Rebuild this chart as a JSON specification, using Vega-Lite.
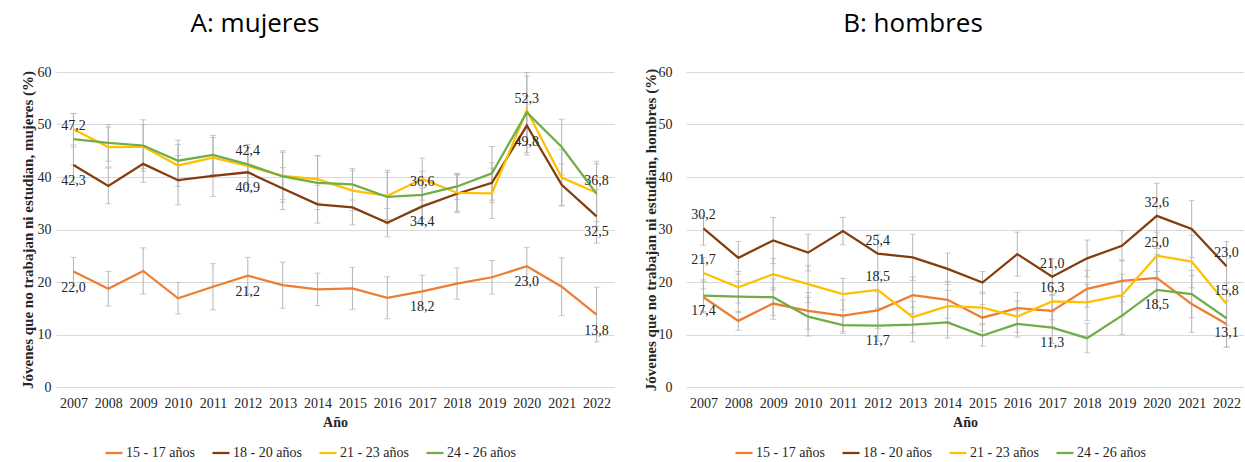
{
  "$schema": "https://vega.github.io/schema/vega-lite/v6.json",
  "padding": {"left": 20, "top": 11, "right": 0, "bottom": 0},
  "background": "white",
  "config": {
    "locale": {"number": {"decimal": ",", "thousands": ".", "grouping": [3], "currency": ["", " €"]}},
    "view": {"stroke": null},
    "font": "Liberation Serif",
    "axis": {
      "labelFont": "Liberation Serif", "titleFont": "Liberation Serif",
      "labelFontSize": 14, "titleFontSize": 14, "titleFontWeight": "bold",
      "labelColor": "#262626", "titleColor": "#262626",
      "gridColor": "#d9d9d9", "gridWidth": 1, "ticks": false, "domain": false
    },
    "legend": {"labelFont": "Liberation Serif"},
    "concat": {"spacing": 29}
  },
  "datasets": {
    "mujeres": [
      {"grupo": "15 - 17 años", "anio": 2007, "valor": 22.0, "lo": 19.3, "hi": 24.7},
      {"grupo": "15 - 17 años", "anio": 2008, "valor": 18.7, "lo": 15.4, "hi": 22.0},
      {"grupo": "15 - 17 años", "anio": 2009, "valor": 22.1, "lo": 17.7, "hi": 26.5},
      {"grupo": "15 - 17 años", "anio": 2010, "valor": 16.9, "lo": 13.9, "hi": 19.9},
      {"grupo": "15 - 17 años", "anio": 2011, "valor": 19.1, "lo": 14.7, "hi": 23.5},
      {"grupo": "15 - 17 años", "anio": 2012, "valor": 21.2, "lo": 17.7, "hi": 24.7},
      {"grupo": "15 - 17 años", "anio": 2013, "valor": 19.4, "lo": 15.0, "hi": 23.8},
      {"grupo": "15 - 17 años", "anio": 2014, "valor": 18.6, "lo": 15.5, "hi": 21.7},
      {"grupo": "15 - 17 años", "anio": 2015, "valor": 18.8, "lo": 14.8, "hi": 22.8},
      {"grupo": "15 - 17 años", "anio": 2016, "valor": 17.0, "lo": 13.0, "hi": 21.0},
      {"grupo": "15 - 17 años", "anio": 2017, "valor": 18.2, "lo": 15.1, "hi": 21.3},
      {"grupo": "15 - 17 años", "anio": 2018, "valor": 19.7, "lo": 16.7, "hi": 22.7},
      {"grupo": "15 - 17 años", "anio": 2019, "valor": 20.9, "lo": 17.7, "hi": 24.1},
      {"grupo": "15 - 17 años", "anio": 2020, "valor": 23.0, "lo": 19.4, "hi": 26.6},
      {"grupo": "15 - 17 años", "anio": 2021, "valor": 19.1, "lo": 13.6, "hi": 24.6},
      {"grupo": "15 - 17 años", "anio": 2022, "valor": 13.8, "lo": 8.6, "hi": 19.0},
      {"grupo": "18 - 20 años", "anio": 2007, "valor": 42.3, "lo": 38.9, "hi": 45.7},
      {"grupo": "18 - 20 años", "anio": 2008, "valor": 38.3, "lo": 34.9, "hi": 41.7},
      {"grupo": "18 - 20 años", "anio": 2009, "valor": 42.5, "lo": 39.0, "hi": 46.0},
      {"grupo": "18 - 20 años", "anio": 2010, "valor": 39.4, "lo": 34.7, "hi": 44.1},
      {"grupo": "18 - 20 años", "anio": 2011, "valor": 40.2, "lo": 36.3, "hi": 44.1},
      {"grupo": "18 - 20 años", "anio": 2012, "valor": 40.9, "lo": 37.3, "hi": 44.5},
      {"grupo": "18 - 20 años", "anio": 2013, "valor": 37.8, "lo": 33.8, "hi": 41.8},
      {"grupo": "18 - 20 años", "anio": 2014, "valor": 34.8, "lo": 31.2, "hi": 38.4},
      {"grupo": "18 - 20 años", "anio": 2015, "valor": 34.2, "lo": 30.9, "hi": 37.5},
      {"grupo": "18 - 20 años", "anio": 2016, "valor": 31.3, "lo": 28.6, "hi": 34.0},
      {"grupo": "18 - 20 años", "anio": 2017, "valor": 34.4, "lo": 30.9, "hi": 37.9},
      {"grupo": "18 - 20 años", "anio": 2018, "valor": 36.8, "lo": 33.2, "hi": 40.4},
      {"grupo": "18 - 20 años", "anio": 2019, "valor": 38.9, "lo": 35.1, "hi": 42.7},
      {"grupo": "18 - 20 años", "anio": 2020, "valor": 49.8, "lo": 44.2, "hi": 55.4},
      {"grupo": "18 - 20 años", "anio": 2021, "valor": 38.5, "lo": 34.5, "hi": 42.5},
      {"grupo": "18 - 20 años", "anio": 2022, "valor": 32.5, "lo": 27.4, "hi": 37.6},
      {"grupo": "21 - 23 años", "anio": 2007, "valor": 49.1, "lo": 46.1, "hi": 52.1},
      {"grupo": "21 - 23 años", "anio": 2008, "valor": 45.7, "lo": 41.9, "hi": 49.5},
      {"grupo": "21 - 23 años", "anio": 2009, "valor": 45.8, "lo": 41.6, "hi": 50.0},
      {"grupo": "21 - 23 años", "anio": 2010, "valor": 42.2, "lo": 38.2, "hi": 46.2},
      {"grupo": "21 - 23 años", "anio": 2011, "valor": 43.7, "lo": 39.9, "hi": 47.5},
      {"grupo": "21 - 23 años", "anio": 2012, "valor": 42.1, "lo": 38.6, "hi": 45.6},
      {"grupo": "21 - 23 años", "anio": 2013, "valor": 40.2, "lo": 35.7, "hi": 44.7},
      {"grupo": "21 - 23 años", "anio": 2014, "valor": 39.6, "lo": 35.1, "hi": 44.1},
      {"grupo": "21 - 23 años", "anio": 2015, "valor": 37.4, "lo": 33.6, "hi": 41.2},
      {"grupo": "21 - 23 años", "anio": 2016, "valor": 36.4, "lo": 31.9, "hi": 40.9},
      {"grupo": "21 - 23 años", "anio": 2017, "valor": 39.6, "lo": 35.6, "hi": 43.6},
      {"grupo": "21 - 23 años", "anio": 2018, "valor": 37.0, "lo": 33.5, "hi": 40.5},
      {"grupo": "21 - 23 años", "anio": 2019, "valor": 36.9, "lo": 32.1, "hi": 41.7},
      {"grupo": "21 - 23 años", "anio": 2020, "valor": 52.7, "lo": 46.2, "hi": 59.2},
      {"grupo": "21 - 23 años", "anio": 2021, "valor": 39.9, "lo": 34.6, "hi": 45.2},
      {"grupo": "21 - 23 años", "anio": 2022, "valor": 37.0, "lo": 31.5, "hi": 42.5},
      {"grupo": "24 - 26 años", "anio": 2007, "valor": 47.2, "lo": 42.3, "hi": 52.1},
      {"grupo": "24 - 26 años", "anio": 2008, "valor": 46.5, "lo": 43.0, "hi": 50.0},
      {"grupo": "24 - 26 años", "anio": 2009, "valor": 46.0, "lo": 41.1, "hi": 50.9},
      {"grupo": "24 - 26 años", "anio": 2010, "valor": 43.1, "lo": 39.2, "hi": 47.0},
      {"grupo": "24 - 26 años", "anio": 2011, "valor": 44.2, "lo": 40.5, "hi": 47.9},
      {"grupo": "24 - 26 años", "anio": 2012, "valor": 42.4, "lo": 38.6, "hi": 46.2},
      {"grupo": "24 - 26 años", "anio": 2013, "valor": 40.1, "lo": 35.2, "hi": 45.0},
      {"grupo": "24 - 26 años", "anio": 2014, "valor": 38.9, "lo": 33.8, "hi": 44.0},
      {"grupo": "24 - 26 años", "anio": 2015, "valor": 38.6, "lo": 35.6, "hi": 41.6},
      {"grupo": "24 - 26 años", "anio": 2016, "valor": 36.2, "lo": 31.1, "hi": 41.3},
      {"grupo": "24 - 26 años", "anio": 2017, "valor": 36.6, "lo": 32.1, "hi": 41.1},
      {"grupo": "24 - 26 años", "anio": 2018, "valor": 38.2, "lo": 35.7, "hi": 40.7},
      {"grupo": "24 - 26 años", "anio": 2019, "valor": 40.7, "lo": 35.6, "hi": 45.8},
      {"grupo": "24 - 26 años", "anio": 2020, "valor": 52.3, "lo": 44.7, "hi": 59.9},
      {"grupo": "24 - 26 años", "anio": 2021, "valor": 45.7, "lo": 40.4, "hi": 51.0},
      {"grupo": "24 - 26 años", "anio": 2022, "valor": 36.8, "lo": 30.6, "hi": 43.0}
    ],
    "hombres": [
      {"grupo": "15 - 17 años", "anio": 2007, "valor": 17.1, "lo": 14.1, "hi": 20.1},
      {"grupo": "15 - 17 años", "anio": 2008, "valor": 12.6, "lo": 10.8, "hi": 14.4},
      {"grupo": "15 - 17 años", "anio": 2009, "valor": 15.9, "lo": 12.9, "hi": 18.9},
      {"grupo": "15 - 17 años", "anio": 2010, "valor": 14.5, "lo": 11.0, "hi": 18.0},
      {"grupo": "15 - 17 años", "anio": 2011, "valor": 13.6, "lo": 10.6, "hi": 16.6},
      {"grupo": "15 - 17 años", "anio": 2012, "valor": 14.6, "lo": 11.1, "hi": 18.1},
      {"grupo": "15 - 17 años", "anio": 2013, "valor": 17.5, "lo": 14.0, "hi": 21.0},
      {"grupo": "15 - 17 años", "anio": 2014, "valor": 16.6, "lo": 13.1, "hi": 20.1},
      {"grupo": "15 - 17 años", "anio": 2015, "valor": 13.2, "lo": 10.7, "hi": 15.7},
      {"grupo": "15 - 17 años", "anio": 2016, "valor": 15.0, "lo": 12.0, "hi": 18.0},
      {"grupo": "15 - 17 años", "anio": 2017, "valor": 14.5, "lo": 11.5, "hi": 17.5},
      {"grupo": "15 - 17 años", "anio": 2018, "valor": 18.7, "lo": 15.2, "hi": 22.2},
      {"grupo": "15 - 17 años", "anio": 2019, "valor": 20.2, "lo": 16.2, "hi": 24.2},
      {"grupo": "15 - 17 años", "anio": 2020, "valor": 20.8, "lo": 16.3, "hi": 25.3},
      {"grupo": "15 - 17 años", "anio": 2021, "valor": 15.8, "lo": 10.4, "hi": 21.2},
      {"grupo": "15 - 17 años", "anio": 2022, "valor": 12.0, "lo": 7.6, "hi": 16.4},
      {"grupo": "18 - 20 años", "anio": 2007, "valor": 30.2, "lo": 27.0, "hi": 32.4},
      {"grupo": "18 - 20 años", "anio": 2008, "valor": 24.6, "lo": 21.5, "hi": 27.7},
      {"grupo": "18 - 20 años", "anio": 2009, "valor": 27.9, "lo": 23.5, "hi": 32.3},
      {"grupo": "18 - 20 años", "anio": 2010, "valor": 25.6, "lo": 22.1, "hi": 29.1},
      {"grupo": "18 - 20 años", "anio": 2011, "valor": 29.7, "lo": 27.1, "hi": 32.3},
      {"grupo": "18 - 20 años", "anio": 2012, "valor": 25.4, "lo": 21.7, "hi": 29.1},
      {"grupo": "18 - 20 años", "anio": 2013, "valor": 24.7, "lo": 20.3, "hi": 29.1},
      {"grupo": "18 - 20 años", "anio": 2014, "valor": 22.5, "lo": 19.5, "hi": 25.5},
      {"grupo": "18 - 20 años", "anio": 2015, "valor": 19.9, "lo": 17.8, "hi": 22.0},
      {"grupo": "18 - 20 años", "anio": 2016, "valor": 25.3, "lo": 21.1, "hi": 29.5},
      {"grupo": "18 - 20 años", "anio": 2017, "valor": 21.0, "lo": 17.5, "hi": 24.5},
      {"grupo": "18 - 20 años", "anio": 2018, "valor": 24.5, "lo": 21.0, "hi": 28.0},
      {"grupo": "18 - 20 años", "anio": 2019, "valor": 26.9, "lo": 24.0, "hi": 29.8},
      {"grupo": "18 - 20 años", "anio": 2020, "valor": 32.6, "lo": 26.4, "hi": 38.8},
      {"grupo": "18 - 20 años", "anio": 2021, "valor": 30.1, "lo": 24.7, "hi": 35.5},
      {"grupo": "18 - 20 años", "anio": 2022, "valor": 23.0, "lo": 18.3, "hi": 27.7},
      {"grupo": "21 - 23 años", "anio": 2007, "valor": 21.7, "lo": 18.7, "hi": 24.7},
      {"grupo": "21 - 23 años", "anio": 2008, "valor": 19.0, "lo": 16.0, "hi": 22.0},
      {"grupo": "21 - 23 años", "anio": 2009, "valor": 21.5, "lo": 18.5, "hi": 24.5},
      {"grupo": "21 - 23 años", "anio": 2010, "valor": 19.6, "lo": 16.1, "hi": 23.1},
      {"grupo": "21 - 23 años", "anio": 2011, "valor": 17.7, "lo": 14.7, "hi": 20.7},
      {"grupo": "21 - 23 años", "anio": 2012, "valor": 18.5, "lo": 15.0, "hi": 22.0},
      {"grupo": "21 - 23 años", "anio": 2013, "valor": 13.3, "lo": 10.3, "hi": 16.3},
      {"grupo": "21 - 23 años", "anio": 2014, "valor": 15.4, "lo": 12.4, "hi": 18.4},
      {"grupo": "21 - 23 años", "anio": 2015, "valor": 15.1, "lo": 12.1, "hi": 18.1},
      {"grupo": "21 - 23 años", "anio": 2016, "valor": 13.4, "lo": 10.4, "hi": 16.4},
      {"grupo": "21 - 23 años", "anio": 2017, "valor": 16.3, "lo": 12.8, "hi": 19.8},
      {"grupo": "21 - 23 años", "anio": 2018, "valor": 16.1, "lo": 12.6, "hi": 19.6},
      {"grupo": "21 - 23 años", "anio": 2019, "valor": 17.5, "lo": 13.5, "hi": 21.5},
      {"grupo": "21 - 23 años", "anio": 2020, "valor": 25.0, "lo": 20.5, "hi": 29.5},
      {"grupo": "21 - 23 años", "anio": 2021, "valor": 23.9, "lo": 18.9, "hi": 28.9},
      {"grupo": "21 - 23 años", "anio": 2022, "valor": 15.8, "lo": 11.8, "hi": 19.8},
      {"grupo": "24 - 26 años", "anio": 2007, "valor": 17.4, "lo": 14.4, "hi": 20.4},
      {"grupo": "24 - 26 años", "anio": 2008, "valor": 17.2, "lo": 14.2, "hi": 20.2},
      {"grupo": "24 - 26 años", "anio": 2009, "valor": 17.1, "lo": 13.6, "hi": 20.6},
      {"grupo": "24 - 26 años", "anio": 2010, "valor": 13.4, "lo": 9.7, "hi": 17.1},
      {"grupo": "24 - 26 años", "anio": 2011, "valor": 11.8, "lo": 10.2, "hi": 13.4},
      {"grupo": "24 - 26 años", "anio": 2012, "valor": 11.7, "lo": 8.7, "hi": 14.7},
      {"grupo": "24 - 26 años", "anio": 2013, "valor": 11.9, "lo": 8.6, "hi": 15.2},
      {"grupo": "24 - 26 años", "anio": 2014, "valor": 12.3, "lo": 9.3, "hi": 15.3},
      {"grupo": "24 - 26 años", "anio": 2015, "valor": 9.8, "lo": 7.8, "hi": 11.8},
      {"grupo": "24 - 26 años", "anio": 2016, "valor": 12.0, "lo": 9.5, "hi": 14.5},
      {"grupo": "24 - 26 años", "anio": 2017, "valor": 11.3, "lo": 8.3, "hi": 14.3},
      {"grupo": "24 - 26 años", "anio": 2018, "valor": 9.3, "lo": 6.5, "hi": 12.1},
      {"grupo": "24 - 26 años", "anio": 2019, "valor": 13.6, "lo": 10.0, "hi": 17.2},
      {"grupo": "24 - 26 años", "anio": 2020, "valor": 18.5, "lo": 15.0, "hi": 22.0},
      {"grupo": "24 - 26 años", "anio": 2021, "valor": 17.7, "lo": 13.2, "hi": 22.2},
      {"grupo": "24 - 26 años", "anio": 2022, "valor": 13.1, "lo": 7.6, "hi": 18.6}
    ]
  },
  "resolve": {"scale": {"color": "independent", "y": "independent", "x": "independent"}, "legend": {"color": "independent"}},
  "hconcat": [
    {
      "width": 558, "height": 315,
      "title": {"text": "A: mujeres", "font": "Open Sans", "fontSize": 26, "fontWeight": "normal", "color": "#000000", "frame": "group", "anchor": "middle", "dx": -80, "offset": 28},
      "data": {"name": "mujeres"},
      "encoding": {
        "x": {"field": "anio", "type": "ordinal", "scale": {"type": "point", "padding": 0.5}, "title": "Año",
              "axis": {"labelAngle": 0, "labelPadding": 9, "titlePadding": 5, "grid": false}}
      },
      "layer": [
        {"mark": {"type": "rule", "color": "#b3b3b3", "strokeWidth": 1},
         "encoding": {"y": {"field": "lo", "type": "quantitative", "scale": {"domain": [0, 60]}, "title": "Jóvenes que no trabajan ni estudian, mujeres (%)",
                            "axis": {"values": [0, 10, 20, 30, 40, 50, 60], "grid": true, "labelPadding": 5, "titlePadding": 2, "titleFontSize": 15}},
                      "y2": {"field": "hi"}}},
        {"mark": {"type": "tick", "color": "#b3b3b3", "thickness": 1, "size": 6},
         "encoding": {"y": {"field": "lo", "type": "quantitative", "title": "Jóvenes que no trabajan ni estudian, mujeres (%)"}}},
        {"mark": {"type": "tick", "color": "#b3b3b3", "thickness": 1, "size": 6},
         "encoding": {"y": {"field": "hi", "type": "quantitative", "title": "Jóvenes que no trabajan ni estudian, mujeres (%)"}}},
        {"mark": {"type": "line", "strokeWidth": 2.25},
         "encoding": {
           "y": {"field": "valor", "type": "quantitative", "title": "Jóvenes que no trabajan ni estudian, mujeres (%)"},
           "color": {"field": "grupo", "type": "nominal",
                     "scale": {"domain": ["15 - 17 años", "18 - 20 años", "21 - 23 años", "24 - 26 años"], "range": ["#ED7D31", "#843C0C", "#FFC000", "#70AD47"]},
                     "legend": {"orient": "none", "legendX": 48, "legendY": 371, "direction": "horizontal", "title": null,
                                "symbolType": "stroke", "symbolSize": 289, "symbolStrokeWidth": 2.25,
                                "labelFont": "Liberation Serif", "labelFontSize": 14, "labelColor": "#262626",
                                "columnPadding": 13, "labelOffset": 2}}
         }},
        {"transform": [{"filter": {"field": "anio", "oneOf": [2007, 2012, 2017, 2020, 2022]}}, {"filter": {"field": "grupo", "equal": "24 - 26 años"}}],
         "mark": {"type": "text", "dy": -13, "fontSize": 14, "color": "#262626", "font": "Liberation Serif"},
         "encoding": {"y": {"field": "valor", "type": "quantitative", "title": "Jóvenes que no trabajan ni estudian, mujeres (%)"}, "text": {"field": "valor", "type": "quantitative", "format": ".1f"}}},
        {"transform": [{"filter": {"field": "anio", "oneOf": [2007, 2012, 2017, 2020, 2022]}}, {"filter": {"field": "grupo", "oneOf": ["15 - 17 años", "18 - 20 años"]}}],
         "mark": {"type": "text", "dy": 16, "fontSize": 14, "color": "#262626", "font": "Liberation Serif"},
         "encoding": {"y": {"field": "valor", "type": "quantitative", "title": "Jóvenes que no trabajan ni estudian, mujeres (%)"}, "text": {"field": "valor", "type": "quantitative", "format": ".1f"}}}
      ]
    },
    {
      "width": 558, "height": 315,
      "title": {"text": "B: hombres", "font": "Open Sans", "fontSize": 26, "fontWeight": "normal", "color": "#000000", "frame": "group", "anchor": "middle", "dx": -52, "offset": 28},
      "data": {"name": "hombres"},
      "encoding": {
        "x": {"field": "anio", "type": "ordinal", "scale": {"type": "point", "padding": 0.5}, "title": "Año",
              "axis": {"labelAngle": 0, "labelPadding": 9, "titlePadding": 5, "grid": false}}
      },
      "layer": [
        {"mark": {"type": "rule", "color": "#b3b3b3", "strokeWidth": 1},
         "encoding": {"y": {"field": "lo", "type": "quantitative", "scale": {"domain": [0, 60]}, "title": "Jóvenes que no trabajan ni estudian, hombres (%)",
                            "axis": {"values": [0, 10, 20, 30, 40, 50, 60], "grid": true, "labelPadding": 14, "titlePadding": 0, "titleFontSize": 15}},
                      "y2": {"field": "hi"}}},
        {"mark": {"type": "tick", "color": "#b3b3b3", "thickness": 1, "size": 6},
         "encoding": {"y": {"field": "lo", "type": "quantitative", "title": "Jóvenes que no trabajan ni estudian, hombres (%)"}}},
        {"mark": {"type": "tick", "color": "#b3b3b3", "thickness": 1, "size": 6},
         "encoding": {"y": {"field": "hi", "type": "quantitative", "title": "Jóvenes que no trabajan ni estudian, hombres (%)"}}},
        {"mark": {"type": "line", "strokeWidth": 2.25},
         "encoding": {
           "y": {"field": "valor", "type": "quantitative", "title": "Jóvenes que no trabajan ni estudian, hombres (%)"},
           "color": {"field": "grupo", "type": "nominal",
                     "scale": {"domain": ["15 - 17 años", "18 - 20 años", "21 - 23 años", "24 - 26 años"], "range": ["#ED7D31", "#843C0C", "#FFC000", "#70AD47"]},
                     "legend": {"orient": "none", "legendX": 48, "legendY": 371, "direction": "horizontal", "title": null,
                                "symbolType": "stroke", "symbolSize": 289, "symbolStrokeWidth": 2.25,
                                "labelFont": "Liberation Serif", "labelFontSize": 14, "labelColor": "#262626",
                                "columnPadding": 13, "labelOffset": 2}}
         }},
        {"transform": [{"filter": {"field": "anio", "oneOf": [2007, 2012, 2017, 2020, 2022]}}, {"filter": {"field": "grupo", "oneOf": ["18 - 20 años", "21 - 23 años"]}}],
         "mark": {"type": "text", "dy": -13, "fontSize": 14, "color": "#262626", "font": "Liberation Serif"},
         "encoding": {"y": {"field": "valor", "type": "quantitative", "title": "Jóvenes que no trabajan ni estudian, hombres (%)"}, "text": {"field": "valor", "type": "quantitative", "format": ".1f"}}},
        {"transform": [{"filter": {"field": "anio", "oneOf": [2007, 2012, 2017, 2020, 2022]}}, {"filter": {"field": "grupo", "equal": "24 - 26 años"}}],
         "mark": {"type": "text", "dy": 15, "fontSize": 14, "color": "#262626", "font": "Liberation Serif"},
         "encoding": {"y": {"field": "valor", "type": "quantitative", "title": "Jóvenes que no trabajan ni estudian, hombres (%)"}, "text": {"field": "valor", "type": "quantitative", "format": ".1f"}}}
      ]
    }
  ]
}
